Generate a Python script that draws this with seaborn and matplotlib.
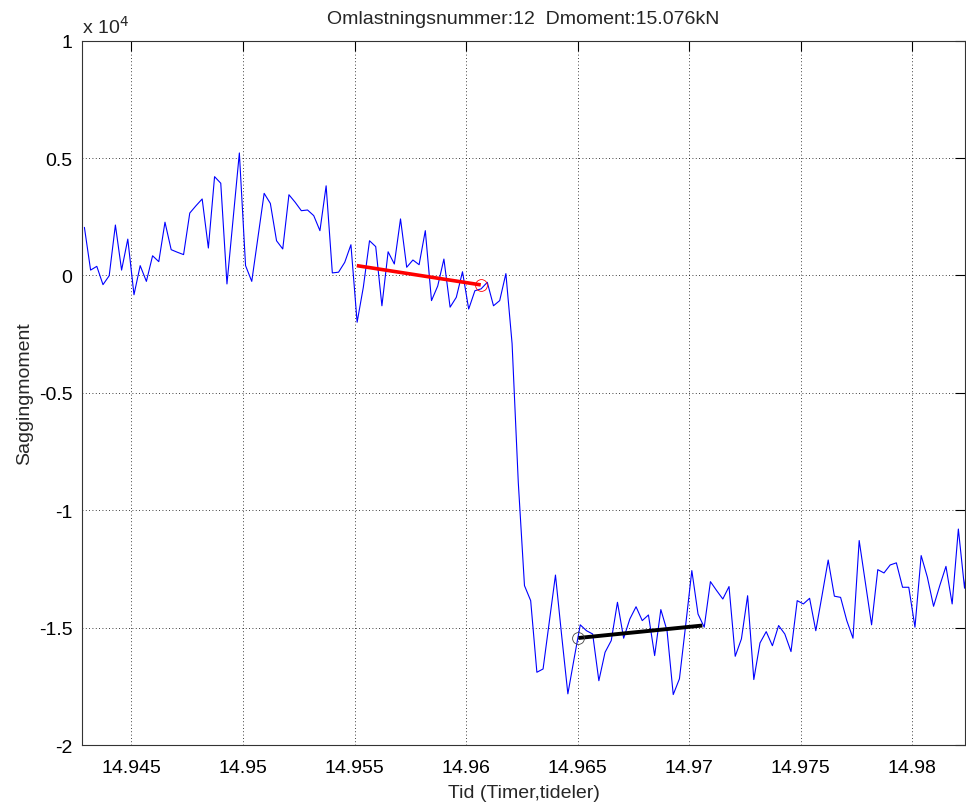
import numpy as np
import pandas as pd
import matplotlib
matplotlib.use("Agg")
import matplotlib.pyplot as plt
import seaborn as sns

# ---- data (Saggingmoment in units of 1e4) ----
t_start = 14.942894          # time of first sample (hours)
sample_step_h = 1.0 / 3600.0 # one sample per second
moment_e4 = [
    0.205, 0.023, 0.039, -0.039, -0.001, 0.215, 0.023, 0.155, -0.082, 0.042,
    -0.025, 0.084, 0.059, 0.227, 0.110, 0.099, 0.089, 0.266, 0.297, 0.326,
    0.117, 0.421, 0.393, -0.036, 0.241, 0.522, 0.042, -0.025, 0.163, 0.350,
    0.307, 0.148, 0.113, 0.344, 0.312, 0.276, 0.279, 0.255, 0.191, 0.382,
    0.011, 0.014, 0.056, 0.131, -0.199, -0.050, 0.148, 0.123, -0.129, 0.101,
    0.049, 0.241, 0.035, 0.066, 0.046, 0.191, -0.107, -0.045, 0.070, -0.135,
    -0.093, 0.016, -0.143, -0.065, -0.057, -0.029, -0.129, -0.107, 0.008, -0.290,
    -0.881, -1.321, -1.385, -1.690, -1.676, -1.477, -1.276, -1.534, -1.782, -1.633,
    -1.488, -1.513, -1.527, -1.726, -1.605, -1.555, -1.392, -1.545, -1.463, -1.411,
    -1.470, -1.446, -1.619, -1.423, -1.513, -1.785, -1.718, -1.491, -1.257, -1.442,
    -1.498, -1.304, -1.342, -1.378, -1.325, -1.622, -1.548, -1.364, -1.721, -1.565,
    -1.517, -1.577, -1.491, -1.527, -1.602, -1.385, -1.399, -1.375, -1.513, -1.364,
    -1.212, -1.366, -1.371, -1.470, -1.545, -1.129, -1.307, -1.488, -1.253, -1.267,
    -1.233, -1.224, -1.328, -1.328, -1.498, -1.193, -1.285, -1.409, -1.321, -1.239,
    -1.399, -1.080, -1.332, -1.080,
]
# fitted lines before / after the change
fit_before_t = [14.955101, 14.960658]
fit_before_y = [0.042, -0.040]
fit_after_t = [14.965032, 14.970589]
fit_after_y = [-1.544, -1.491]

x_ticks = [14.945, 14.95, 14.955, 14.96, 14.965, 14.97, 14.975, 14.98]
x_tick_labels = ["14.945", "14.95", "14.955", "14.96", "14.965", "14.97", "14.975", "14.98"]
y_ticks = [-2, -1.5, -1, -0.5, 0, 0.5, 1]
y_tick_labels = ["-2", "-1.5", "-1", "-0.5", "0", "0.5", "1"]

title_text = "Omlastningsnummer:12  Dmoment:15.076kN"
x_label = "Tid (Timer,tideler)"
y_label = "Saggingmoment"

# ---- plotting ----
sns.set_style("white")
plt.rcParams["font.family"] = ["Liberation Sans", "DejaVu Sans"]

df = pd.DataFrame({
    "tid": t_start + np.arange(len(moment_e4)) * sample_step_h,
    "moment": moment_e4,
})

fig = plt.figure(figsize=(9.66, 8.04), dpi=100)
ax = fig.add_axes([0.0852, 0.0721, 0.9138, 0.8760])

sns.lineplot(data=df, x="tid", y="moment", ax=ax, color="#0000ff",
             linewidth=0.8, sort=False, estimator=None)
ax.plot(fit_before_t, fit_before_y, color="#ff0000", linewidth=2.6, solid_capstyle="butt")
ax.plot([fit_before_t[-1]], [fit_before_y[-1]], marker="o", markersize=8.5,
        markerfacecolor="none", markeredgecolor="#ff0000", markeredgewidth=0.6)
ax.plot(fit_after_t, fit_after_y, color="black", linewidth=2.8, solid_capstyle="butt")
ax.plot([fit_after_t[0]], [fit_after_y[0]], marker="o", markersize=8.5,
        markerfacecolor="none", markeredgecolor="#444444", markeredgewidth=0.6)

ax.set_xlim(14.94280, 14.98236)
ax.set_ylim(-2, 1)
ax.set_xticks(x_ticks)
ax.set_xticklabels(x_tick_labels)
ax.set_yticks(y_ticks)
ax.set_yticklabels(y_tick_labels)

ax.grid(True, color="black", linestyle=(0, (1, 3)), linewidth=0.6)
ax.tick_params(direction="in", length=7, width=0.8, top=True, right=True,
               labelsize=14, colors="black")
ax.tick_params(axis="x", pad=10)
ax.tick_params(axis="y", pad=7)
for s in ax.spines.values():
    s.set_visible(True)
    s.set_color("#333333")
    s.set_linewidth(0.8)

ax.set_xlabel(x_label, fontsize=14, labelpad=6)
ax.set_ylabel(y_label, fontsize=14, labelpad=4)
ax.set_title(title_text, fontsize=14, pad=13)
ax.text(0.0, 1.006, r"x 10$^{4}$", transform=ax.transAxes, fontsize=14,
        ha="left", va="bottom")

fig.savefig("out.png", dpi=100)
